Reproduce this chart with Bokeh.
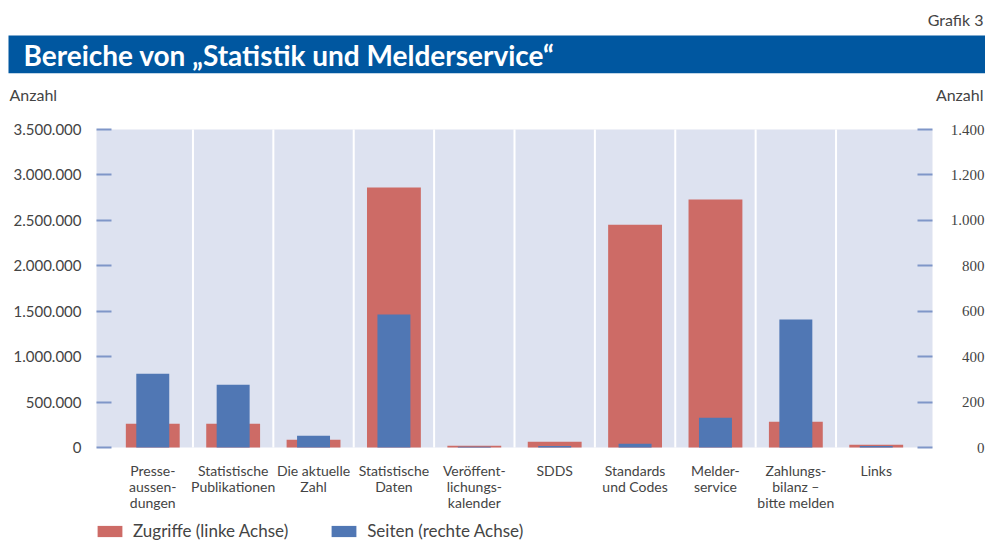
from bokeh.plotting import figure
from bokeh.models import (Range1d, LinearAxis, FixedTicker, Legend, LegendItem,
                          Label, LabelSet, BoxAnnotation, ColumnDataSource)
from bokeh.embed import file_html
from bokeh.resources import INLINE

# ---------------- data ----------------
categories = [
    "Presse-\naussen-\ndungen",
    "Statistische\nPublikationen",
    "Die aktuelle\nZahl",
    "Statistische\nDaten",
    "Veröffent-\nlichungs-\nkalender",
    "SDDS",
    "Standards\nund Codes",
    "Melder-\nservice",
    "Zahlungs-\nbilanz –\nbitte melden",
    "Links",
]
zugriffe = [261000, 261000, 85000, 2861000, 19000, 63000, 2453000, 2729000, 283000, 30000]
seiten = [325, 276, 52, 585, 3, 7, 16, 131, 563, 7]

left_ticks = [0, 500000, 1000000, 1500000, 2000000, 2500000, 3000000, 3500000]
left_tick_labels = ["0", "500.000", "1.000.000", "1.500.000", "2.000.000",
                    "2.500.000", "3.000.000", "3.500.000"]
right_ticks = [0, 200, 400, 600, 800, 1000, 1200, 1400]
right_tick_labels = ["0", "200", "400", "600", "800", "1.000", "1.200", "1.400"]

title_text = "Bereiche von „Statistik und Melderservice“"
corner_text = "Grafik 3"
axis_title = "Anzahl"
legend_labels = ["Zugriffe (linke Achse)", "Seiten (rechte Achse)"]

# ---------------- style / layout ----------------
RED = "#cd6b66"
BLUE = "#5077b4"
BG = "#dde2f0"
BANNER = "#0057a0"
TICK = "#7f96c8"
TXT = "#444444"
FONT = "Lato"

W, H = 985, 541
PL, PR, PT, PB = 96, 932, 129, 447          # plot-area box in page pixels

n = len(categories)
X0, X1 = -0.7, n - 1 + 0.7                   # category domain incl. padding
YL = left_ticks[-1]
YR = right_ticks[-1]

# the frame covers the whole canvas; map the plot-area box through the ranges
sx = (X1 - X0) / (PR - PL)
syl = YL / (PB - PT)
syr = YR / (PB - PT)
x_range = Range1d(X0 - PL * sx, X1 + (W - PR) * sx)
y_range = Range1d(-(H - PB) * syl, YL + PT * syl)

p = figure(width=W, height=H, output_backend="svg", toolbar_location=None,
           x_range=x_range, y_range=y_range,
           min_border=0, min_border_left=0, min_border_right=0,
           min_border_top=0, min_border_bottom=0,
           background_fill_color="white", border_fill_color="white",
           outline_line_color=None)
p.extra_y_ranges = {"right": Range1d(-(H - PB) * syr, YR + PT * syr)}
p.xgrid.grid_line_color = None
p.ygrid.grid_line_color = None

# plot-area background
p.add_layout(BoxAnnotation(left=X0, right=X1, bottom=0, top=YL, fill_color=BG,
                           fill_alpha=1, line_color=None, level="underlay"))

xs = list(range(n))
src = ColumnDataSource(dict(x=xs, z=zugriffe, s=seiten))

# white separators between categories
seps = [i + 0.5 for i in range(n - 1)]
p.segment(x0=seps, x1=seps, y0=[0] * len(seps), y1=[YL] * len(seps),
          line_color="white", line_width=2)

r1 = p.vbar(x="x", top="z", width=0.67, source=src, fill_color=RED, line_color=None)
r2 = p.vbar(x="x", top="s", width=0.41, source=src, fill_color=BLUE, line_color=None,
            y_range_name="right")

# x axis (categories)
xa = p.xaxis[0]
xa.fixed_location = 0
xa.ticker = FixedTicker(ticks=xs)
xa.major_label_overrides = {i: c for i, c in enumerate(categories)}
xa.major_tick_line_color = None
xa.minor_tick_line_color = None
xa.axis_line_color = None
xa.major_label_standoff = 8
xa.major_label_text_font = FONT
xa.major_label_text_font_size = "14px"
xa.major_label_text_color = TXT
xa.major_label_text_line_height = 0.95

# left axis
ya = p.yaxis[0]
ya.fixed_location = X0
ya.ticker = FixedTicker(ticks=left_ticks)
ya.major_label_overrides = {t: l for t, l in zip(left_ticks, left_tick_labels)}
ya.major_tick_in = 15
ya.major_tick_out = 0
ya.major_tick_line_color = TICK
ya.major_tick_line_width = 2
ya.minor_tick_line_color = None
ya.axis_line_color = None
ya.major_label_standoff = 15
ya.major_label_text_font = FONT
ya.major_label_text_font_size = "15px"
ya.major_label_text_color = TXT

# right axis (ticks; labels right-aligned via LabelSet)
ra = LinearAxis(y_range_name="right", ticker=FixedTicker(ticks=right_ticks),
                fixed_location=X1)
ra.major_tick_in = 15
ra.major_tick_out = 0
ra.major_tick_line_color = TICK
ra.major_tick_line_width = 2
ra.minor_tick_line_color = None
ra.axis_line_color = None
ra.major_label_text_color = None
p.add_layout(ra, "right")

rsrc = ColumnDataSource(dict(y=right_ticks, t=right_tick_labels))
p.add_layout(LabelSet(x=984, y="y", text="t", source=rsrc, x_units="screen",
                      y_range_name="right", text_align="right", text_baseline="middle",
                      text_font=FONT, text_font_size="15px", text_color=TXT))

# banner + title and other texts (screen units: x from left, y from bottom)
p.add_layout(BoxAnnotation(left=8, right=W, top=H - 35, bottom=H - 72.7,
                           left_units="screen", right_units="screen",
                           top_units="screen", bottom_units="screen",
                           fill_color=BANNER, fill_alpha=1, line_color=None))
p.add_layout(Label(x=23, y=H - 54, x_units="screen", y_units="screen",
                   text=title_text, text_color="white", text_font=FONT,
                   text_font_style="bold", text_font_size="28px",
                   text_baseline="alphabetic"))
p.add_layout(Label(x=983, y=H - 19, x_units="screen", y_units="screen",
                   text=corner_text, text_color=TXT, text_font=FONT,
                   text_font_size="16px", text_align="right", text_baseline="alphabetic"))
p.add_layout(Label(x=9, y=H - 94, x_units="screen", y_units="screen",
                   text=axis_title, text_color=TXT, text_font=FONT,
                   text_font_size="16px", text_align="left", text_baseline="alphabetic"))
p.add_layout(Label(x=983, y=H - 94, x_units="screen", y_units="screen",
                   text=axis_title, text_color=TXT, text_font=FONT,
                   text_font_size="16px", text_align="right", text_baseline="alphabetic"))

# legend
legend = Legend(items=[LegendItem(label=legend_labels[0], renderers=[r1]),
                       LegendItem(label=legend_labels[1], renderers=[r2])],
                orientation="horizontal", location=(94, 0),
                glyph_width=31, glyph_height=14, label_standoff=8, spacing=40,
                padding=0, margin=0, border_line_color=None, background_fill_alpha=0,
                label_text_font=FONT, label_text_font_size="17px",
                label_text_color=TXT)
p.add_layout(legend, "center")

open("out.html", "w").write(file_html(p, INLINE))
